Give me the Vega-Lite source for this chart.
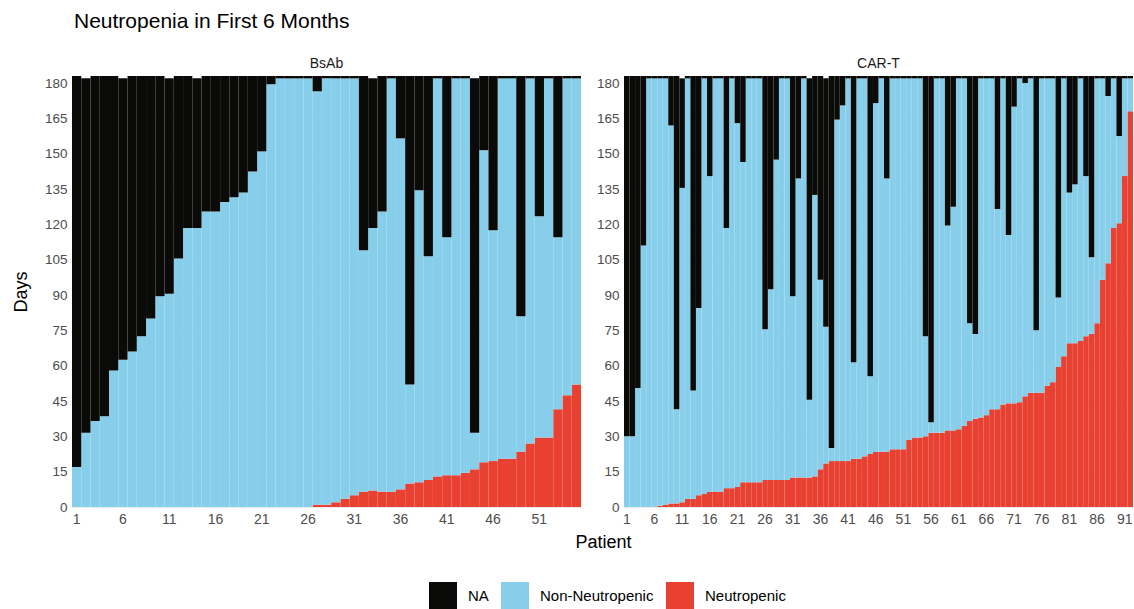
{
  "$schema": "https://vega.github.io/schema/vega-lite/v6.json",
  "padding": {"left": 12, "top": 11, "right": 0, "bottom": 0},
  "background": "white",
  "title": {"text": "Neutropenia in First 6 Months", "anchor": "start", "frame": "group", "fontSize": 21, "fontWeight": "normal", "font": "Liberation Sans", "color": "#000000", "offset": 25, "dx": 2},
  "data": {"values": [
    {"g":"BsAb","p":1,"neu":0,"obs":17,"end":183},
    {"g":"BsAb","p":2,"neu":0,"obs":31.5,"end":182},
    {"g":"BsAb","p":3,"neu":0,"obs":36.5,"end":183},
    {"g":"BsAb","p":4,"neu":0,"obs":38.5,"end":183},
    {"g":"BsAb","p":5,"neu":0,"obs":58,"end":183},
    {"g":"BsAb","p":6,"neu":0,"obs":62.5,"end":182},
    {"g":"BsAb","p":7,"neu":0,"obs":66,"end":183},
    {"g":"BsAb","p":8,"neu":0,"obs":72.5,"end":183},
    {"g":"BsAb","p":9,"neu":0,"obs":80,"end":183},
    {"g":"BsAb","p":10,"neu":0,"obs":89.5,"end":183},
    {"g":"BsAb","p":11,"neu":0,"obs":90.5,"end":182},
    {"g":"BsAb","p":12,"neu":0,"obs":105.5,"end":183},
    {"g":"BsAb","p":13,"neu":0,"obs":118.5,"end":183},
    {"g":"BsAb","p":14,"neu":0,"obs":118.5,"end":182},
    {"g":"BsAb","p":15,"neu":0,"obs":125.5,"end":183},
    {"g":"BsAb","p":16,"neu":0,"obs":125.5,"end":183},
    {"g":"BsAb","p":17,"neu":0,"obs":129.5,"end":183},
    {"g":"BsAb","p":18,"neu":0,"obs":131.5,"end":183},
    {"g":"BsAb","p":19,"neu":0,"obs":133.5,"end":183},
    {"g":"BsAb","p":20,"neu":0,"obs":142.5,"end":183},
    {"g":"BsAb","p":21,"neu":0,"obs":151,"end":183},
    {"g":"BsAb","p":22,"neu":0,"obs":179.5,"end":183},
    {"g":"BsAb","p":23,"neu":0,"obs":182,"end":183},
    {"g":"BsAb","p":24,"neu":0,"obs":182,"end":183},
    {"g":"BsAb","p":25,"neu":0,"obs":182,"end":183},
    {"g":"BsAb","p":26,"neu":0,"obs":182,"end":183},
    {"g":"BsAb","p":27,"neu":1,"obs":176.5,"end":183},
    {"g":"BsAb","p":28,"neu":1,"obs":182,"end":183},
    {"g":"BsAb","p":29,"neu":2,"obs":182,"end":183},
    {"g":"BsAb","p":30,"neu":3.5,"obs":182,"end":183},
    {"g":"BsAb","p":31,"neu":5,"obs":182,"end":183},
    {"g":"BsAb","p":32,"neu":6.5,"obs":109,"end":183},
    {"g":"BsAb","p":33,"neu":7,"obs":118.5,"end":182},
    {"g":"BsAb","p":34,"neu":6.5,"obs":125.5,"end":183},
    {"g":"BsAb","p":35,"neu":6.5,"obs":182,"end":183},
    {"g":"BsAb","p":36,"neu":7.5,"obs":156.5,"end":183},
    {"g":"BsAb","p":37,"neu":10,"obs":52,"end":183},
    {"g":"BsAb","p":38,"neu":10.5,"obs":134.5,"end":183},
    {"g":"BsAb","p":39,"neu":11.5,"obs":106.5,"end":183},
    {"g":"BsAb","p":40,"neu":13,"obs":182,"end":183},
    {"g":"BsAb","p":41,"neu":13.5,"obs":114.5,"end":183},
    {"g":"BsAb","p":42,"neu":13.5,"obs":182,"end":183},
    {"g":"BsAb","p":43,"neu":14.5,"obs":182,"end":183},
    {"g":"BsAb","p":44,"neu":16,"obs":31.5,"end":182},
    {"g":"BsAb","p":45,"neu":19,"obs":151.5,"end":183},
    {"g":"BsAb","p":46,"neu":19.5,"obs":117.5,"end":183},
    {"g":"BsAb","p":47,"neu":20.5,"obs":182,"end":183},
    {"g":"BsAb","p":48,"neu":20.5,"obs":182,"end":183},
    {"g":"BsAb","p":49,"neu":23.5,"obs":81,"end":183},
    {"g":"BsAb","p":50,"neu":27,"obs":182,"end":183},
    {"g":"BsAb","p":51,"neu":29.5,"obs":123.5,"end":183},
    {"g":"BsAb","p":52,"neu":29.5,"obs":182,"end":183},
    {"g":"BsAb","p":53,"neu":41.5,"obs":114.5,"end":183},
    {"g":"BsAb","p":54,"neu":47.5,"obs":182,"end":183},
    {"g":"BsAb","p":55,"neu":52,"obs":182,"end":183},
    {"g":"CAR-T","p":1,"neu":0,"obs":30,"end":183},
    {"g":"CAR-T","p":2,"neu":0,"obs":30,"end":183},
    {"g":"CAR-T","p":3,"neu":0,"obs":50.5,"end":183},
    {"g":"CAR-T","p":4,"neu":0,"obs":111,"end":183},
    {"g":"CAR-T","p":5,"neu":0,"obs":182,"end":183},
    {"g":"CAR-T","p":6,"neu":0,"obs":182,"end":183},
    {"g":"CAR-T","p":7,"neu":0.5,"obs":182,"end":183},
    {"g":"CAR-T","p":8,"neu":1,"obs":182,"end":183},
    {"g":"CAR-T","p":9,"neu":1.5,"obs":162,"end":183},
    {"g":"CAR-T","p":10,"neu":1.5,"obs":41.5,"end":183},
    {"g":"CAR-T","p":11,"neu":2,"obs":135.5,"end":182},
    {"g":"CAR-T","p":12,"neu":3.5,"obs":182,"end":183},
    {"g":"CAR-T","p":13,"neu":3.5,"obs":49.5,"end":183},
    {"g":"CAR-T","p":14,"neu":5,"obs":84.5,"end":183},
    {"g":"CAR-T","p":15,"neu":5.5,"obs":182,"end":183},
    {"g":"CAR-T","p":16,"neu":6.5,"obs":140.5,"end":183},
    {"g":"CAR-T","p":17,"neu":6.5,"obs":182,"end":183},
    {"g":"CAR-T","p":18,"neu":6.5,"obs":182,"end":183},
    {"g":"CAR-T","p":19,"neu":8,"obs":118.5,"end":183},
    {"g":"CAR-T","p":20,"neu":8,"obs":182,"end":183},
    {"g":"CAR-T","p":21,"neu":8.5,"obs":163,"end":183},
    {"g":"CAR-T","p":22,"neu":10.5,"obs":146.5,"end":183},
    {"g":"CAR-T","p":23,"neu":10.5,"obs":182,"end":183},
    {"g":"CAR-T","p":24,"neu":10.5,"obs":182,"end":183},
    {"g":"CAR-T","p":25,"neu":10.5,"obs":182,"end":183},
    {"g":"CAR-T","p":26,"neu":11.5,"obs":75.5,"end":183},
    {"g":"CAR-T","p":27,"neu":11.5,"obs":92.5,"end":183},
    {"g":"CAR-T","p":28,"neu":11.5,"obs":147.5,"end":183},
    {"g":"CAR-T","p":29,"neu":11.5,"obs":182,"end":183},
    {"g":"CAR-T","p":30,"neu":11.5,"obs":182,"end":183},
    {"g":"CAR-T","p":31,"neu":12.5,"obs":89.5,"end":183},
    {"g":"CAR-T","p":32,"neu":12.5,"obs":139.5,"end":183},
    {"g":"CAR-T","p":33,"neu":12.5,"obs":182,"end":183},
    {"g":"CAR-T","p":34,"neu":12.5,"obs":45.5,"end":182},
    {"g":"CAR-T","p":35,"neu":13,"obs":132.5,"end":183},
    {"g":"CAR-T","p":36,"neu":16,"obs":96.5,"end":183},
    {"g":"CAR-T","p":37,"neu":18.5,"obs":76.5,"end":182},
    {"g":"CAR-T","p":38,"neu":19.5,"obs":25,"end":183},
    {"g":"CAR-T","p":39,"neu":19.5,"obs":164.5,"end":183},
    {"g":"CAR-T","p":40,"neu":19.5,"obs":170.5,"end":183},
    {"g":"CAR-T","p":41,"neu":19.5,"obs":182,"end":183},
    {"g":"CAR-T","p":42,"neu":20.5,"obs":61.5,"end":183},
    {"g":"CAR-T","p":43,"neu":20.5,"obs":182,"end":183},
    {"g":"CAR-T","p":44,"neu":21.5,"obs":182,"end":183},
    {"g":"CAR-T","p":45,"neu":22.5,"obs":55.5,"end":183},
    {"g":"CAR-T","p":46,"neu":23.5,"obs":171.5,"end":183},
    {"g":"CAR-T","p":47,"neu":23.5,"obs":182,"end":183},
    {"g":"CAR-T","p":48,"neu":23.5,"obs":139.5,"end":183},
    {"g":"CAR-T","p":49,"neu":24.5,"obs":182,"end":183},
    {"g":"CAR-T","p":50,"neu":24.5,"obs":182,"end":183},
    {"g":"CAR-T","p":51,"neu":24.5,"obs":182,"end":183},
    {"g":"CAR-T","p":52,"neu":28.5,"obs":182,"end":183},
    {"g":"CAR-T","p":53,"neu":29.5,"obs":182,"end":183},
    {"g":"CAR-T","p":54,"neu":29.5,"obs":182,"end":183},
    {"g":"CAR-T","p":55,"neu":30,"obs":72.5,"end":183},
    {"g":"CAR-T","p":56,"neu":31.5,"obs":36,"end":183},
    {"g":"CAR-T","p":57,"neu":31.5,"obs":182,"end":183},
    {"g":"CAR-T","p":58,"neu":31.5,"obs":182,"end":183},
    {"g":"CAR-T","p":59,"neu":32.5,"obs":119.5,"end":183},
    {"g":"CAR-T","p":60,"neu":32.5,"obs":127.5,"end":183},
    {"g":"CAR-T","p":61,"neu":33,"obs":182,"end":183},
    {"g":"CAR-T","p":62,"neu":34.5,"obs":182,"end":183},
    {"g":"CAR-T","p":63,"neu":36.5,"obs":78,"end":183},
    {"g":"CAR-T","p":64,"neu":37.5,"obs":73.5,"end":183},
    {"g":"CAR-T","p":65,"neu":38,"obs":182,"end":183},
    {"g":"CAR-T","p":66,"neu":39,"obs":182,"end":183},
    {"g":"CAR-T","p":67,"neu":41.5,"obs":182,"end":183},
    {"g":"CAR-T","p":68,"neu":41.5,"obs":126.5,"end":183},
    {"g":"CAR-T","p":69,"neu":43.5,"obs":182,"end":183},
    {"g":"CAR-T","p":70,"neu":44,"obs":115.5,"end":183},
    {"g":"CAR-T","p":71,"neu":44,"obs":170,"end":183},
    {"g":"CAR-T","p":72,"neu":44.5,"obs":182,"end":183},
    {"g":"CAR-T","p":73,"neu":47,"obs":180,"end":183},
    {"g":"CAR-T","p":74,"neu":48.5,"obs":182,"end":183},
    {"g":"CAR-T","p":75,"neu":48.5,"obs":75,"end":183},
    {"g":"CAR-T","p":76,"neu":48.5,"obs":182,"end":183},
    {"g":"CAR-T","p":77,"neu":51.5,"obs":182,"end":183},
    {"g":"CAR-T","p":78,"neu":53,"obs":182,"end":183},
    {"g":"CAR-T","p":79,"neu":59.5,"obs":89,"end":183},
    {"g":"CAR-T","p":80,"neu":64,"obs":182,"end":183},
    {"g":"CAR-T","p":81,"neu":69.5,"obs":133.5,"end":183},
    {"g":"CAR-T","p":82,"neu":69.5,"obs":137,"end":183},
    {"g":"CAR-T","p":83,"neu":70.5,"obs":182,"end":183},
    {"g":"CAR-T","p":84,"neu":72.5,"obs":140.5,"end":183},
    {"g":"CAR-T","p":85,"neu":73.5,"obs":106,"end":183},
    {"g":"CAR-T","p":86,"neu":78,"obs":182,"end":183},
    {"g":"CAR-T","p":87,"neu":96.5,"obs":182,"end":183},
    {"g":"CAR-T","p":88,"neu":103.5,"obs":174.5,"end":183},
    {"g":"CAR-T","p":89,"neu":118.5,"obs":182,"end":183},
    {"g":"CAR-T","p":90,"neu":120.5,"obs":157.5,"end":183},
    {"g":"CAR-T","p":91,"neu":140.5,"obs":182,"end":183},
    {"g":"CAR-T","p":92,"neu":168,"obs":182,"end":183}
  ]},
  "bounds": "flush",
  "spacing": 43,
  "resolve": {"scale": {"x": "independent", "y": "independent", "color": "shared"}},
  "hconcat": [
    {
      "width": 509, "height": 431,
      "title": {"text": "BsAb", "anchor": "middle", "fontSize": 14, "fontWeight": "normal", "font": "Liberation Sans", "color": "#1a1a1a", "offset": 5},
      "transform": [{"filter": {"field": "g", "equal": "BsAb"}}],
      "encoding": {
        "x": {"field": "p", "type": "ordinal", "scale": {"paddingInner": 0, "paddingOuter": 0},
          "axis": {"title": "Patient", "titleX": 531, "titleFontSize": 18, "titleFontWeight": "normal", "titleFont": "Liberation Sans", "titleColor": "#000000", "titlePadding": 7, "labelAngle": 0, "labelFontSize": 14, "labelFont": "Liberation Sans", "labelColor": "#4d4d4d", "labelPadding": 5, "labelOverlap": false, "ticks": false, "domain": false, "grid": false, "labelExpr": "(datum.value - 1) % 5 === 0 ? datum.label : ''"}}
      },
      "layer": [
        {"mark": {"type": "bar", "strokeWidth": 0},
         "encoding": {
           "y": {"field": "neu", "type": "quantitative", "title": "Days", "scale": {"domain": [0, 183], "nice": false, "zero": true},
             "axis": {"title": "Days", "values": [0,15,30,45,60,75,90,105,120,135,150,165,180], "labelOverlap": false, "titleFontSize": 18, "titleFontWeight": "normal", "titleFont": "Liberation Sans", "titleColor": "#000000", "titlePadding": 14, "labelFontSize": 13.5, "labelFont": "Liberation Sans", "labelColor": "#4d4d4d", "labelPadding": 5, "ticks": false, "domain": false, "grid": true, "gridColor": "#ebebeb"}},
           "color": {"datum": "Neutropenic", "type": "nominal", "scale": {"domain": ["NA", "Non-Neutropenic", "Neutropenic"], "range": ["#0a0a08", "#87ceeb", "#e84132"]},
             "legend": {"title": null, "orient": "none", "legendX": 357, "legendY": 506, "direction": "horizontal", "symbolType": "square", "symbolSize": 784, "symbolStrokeWidth": 0, "labelFontSize": 15, "labelFont": "Liberation Sans", "labelColor": "#000000", "labelOffset": 11, "columnPadding": 12, "padding": 0}}
         }},
        {"mark": {"type": "bar", "strokeWidth": 0},
         "encoding": {
           "y": {"field": "obs", "type": "quantitative", "title": "Days",
             "axis": {"title": "Days", "values": [0,15,30,45,60,75,90,105,120,135,150,165,180], "labelOverlap": false, "titleFontSize": 18, "titleFontWeight": "normal", "titleFont": "Liberation Sans", "titleColor": "#000000", "titlePadding": 14, "labelFontSize": 13.5, "labelFont": "Liberation Sans", "labelColor": "#4d4d4d", "labelPadding": 5, "ticks": false, "domain": false, "grid": true, "gridColor": "#ebebeb"}},
           "y2": {"field": "neu"},
           "color": {"datum": "Non-Neutropenic", "type": "nominal"}
         }},
        {"mark": {"type": "bar", "strokeWidth": 0},
         "encoding": {
           "y": {"field": "end", "type": "quantitative", "title": "Days",
             "axis": {"title": "Days", "values": [0,15,30,45,60,75,90,105,120,135,150,165,180], "labelOverlap": false, "titleFontSize": 18, "titleFontWeight": "normal", "titleFont": "Liberation Sans", "titleColor": "#000000", "titlePadding": 14, "labelFontSize": 13.5, "labelFont": "Liberation Sans", "labelColor": "#4d4d4d", "labelPadding": 5, "ticks": false, "domain": false, "grid": true, "gridColor": "#ebebeb"}},
           "y2": {"field": "obs"},
           "color": {"datum": "NA", "type": "nominal"}
         }}
      ]
    },
    {
      "width": 509, "height": 431,
      "title": {"text": "CAR-T", "anchor": "middle", "fontSize": 14, "fontWeight": "normal", "font": "Liberation Sans", "color": "#1a1a1a", "offset": 5},
      "transform": [{"filter": {"field": "g", "equal": "CAR-T"}}],
      "encoding": {
        "x": {"field": "p", "type": "ordinal", "scale": {"paddingInner": 0, "paddingOuter": 0},
          "axis": {"title": null, "labelAngle": 0, "labelFontSize": 14, "labelFont": "Liberation Sans", "labelColor": "#4d4d4d", "labelPadding": 5, "labelOverlap": false, "ticks": false, "domain": false, "grid": false, "labelExpr": "(datum.value - 1) % 5 === 0 ? datum.label : ''"}}
      },
      "layer": [
        {"mark": {"type": "bar", "strokeWidth": 0},
         "encoding": {
           "y": {"field": "neu", "type": "quantitative", "title": null, "scale": {"domain": [0, 183], "nice": false, "zero": true},
             "axis": {"title": null, "values": [0,15,30,45,60,75,90,105,120,135,150,165,180], "labelOverlap": false, "labelFontSize": 13.5, "labelFont": "Liberation Sans", "labelColor": "#4d4d4d", "labelPadding": 5, "ticks": false, "domain": false, "grid": true, "gridColor": "#ebebeb"}},
           "color": {"datum": "Neutropenic", "type": "nominal"}
         }},
        {"mark": {"type": "bar", "strokeWidth": 0},
         "encoding": {
           "y": {"field": "obs", "type": "quantitative", "title": null,
             "axis": {"title": null, "values": [0,15,30,45,60,75,90,105,120,135,150,165,180], "labelOverlap": false, "labelFontSize": 13.5, "labelFont": "Liberation Sans", "labelColor": "#4d4d4d", "labelPadding": 5, "ticks": false, "domain": false, "grid": true, "gridColor": "#ebebeb"}},
           "y2": {"field": "neu"},
           "color": {"datum": "Non-Neutropenic", "type": "nominal"}
         }},
        {"mark": {"type": "bar", "strokeWidth": 0},
         "encoding": {
           "y": {"field": "end", "type": "quantitative", "title": null,
             "axis": {"title": null, "values": [0,15,30,45,60,75,90,105,120,135,150,165,180], "labelOverlap": false, "labelFontSize": 13.5, "labelFont": "Liberation Sans", "labelColor": "#4d4d4d", "labelPadding": 5, "ticks": false, "domain": false, "grid": true, "gridColor": "#ebebeb"}},
           "y2": {"field": "obs"},
           "color": {"datum": "NA", "type": "nominal"}
         }}
      ]
    }
  ],
  "config": {"view": {"stroke": null}, "font": "Liberation Sans"}
}
